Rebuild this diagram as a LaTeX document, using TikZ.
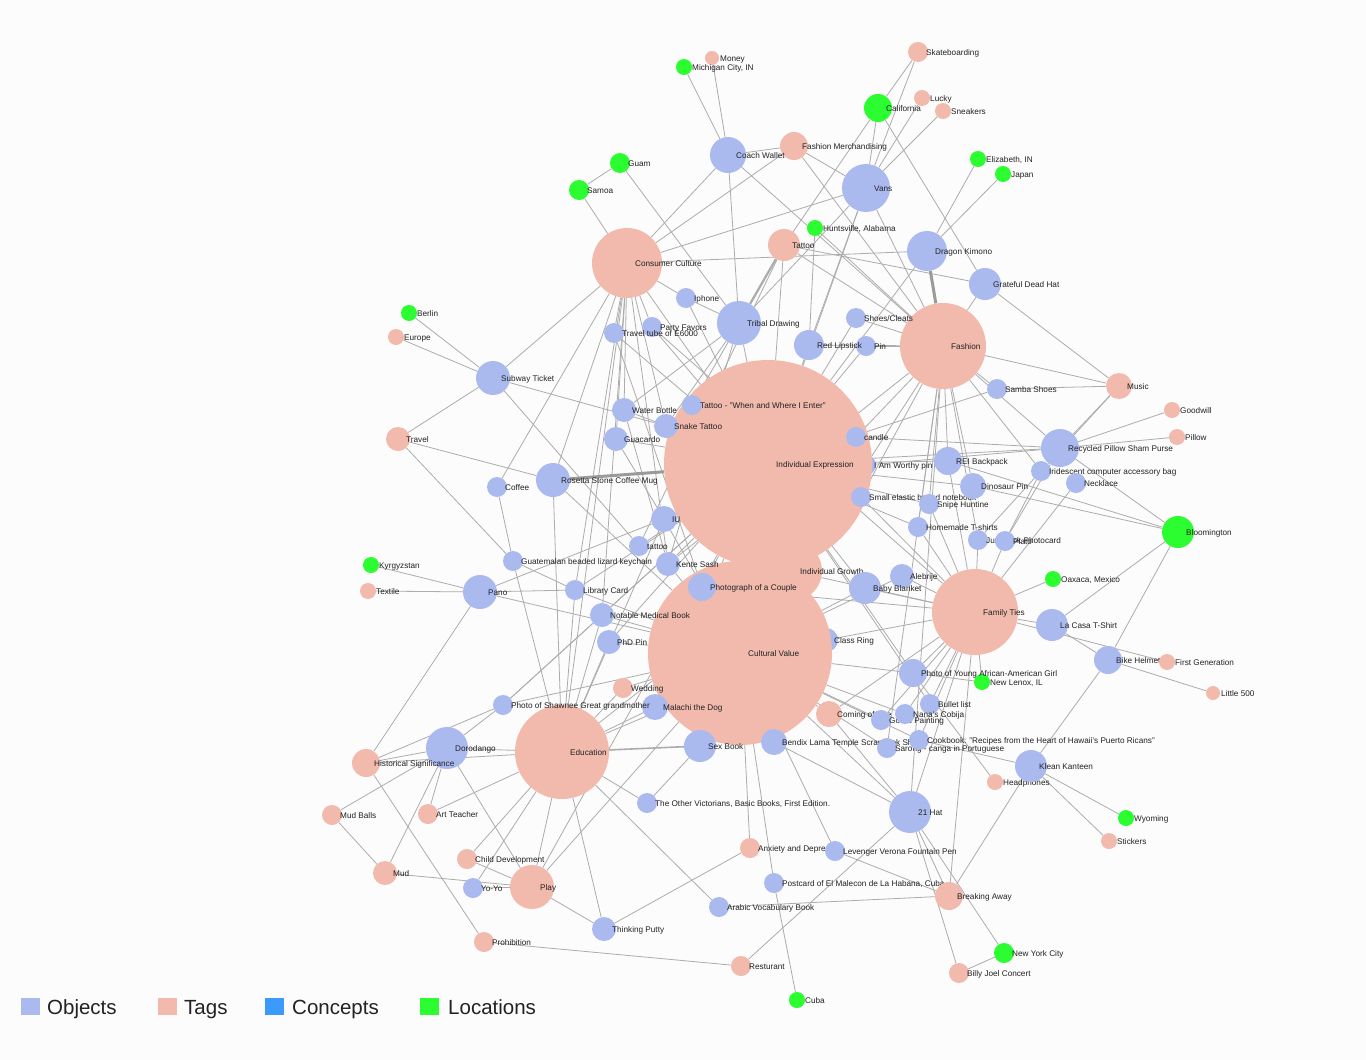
\documentclass[tikz,border=0pt]{standalone}
\usepackage{fontspec}
\setmainfont{Liberation Sans}
\definecolor{objc}{HTML}{ABBAEE}
\definecolor{tagc}{HTML}{F1BAAD}
\definecolor{conc}{HTML}{3C9AFC}
\definecolor{locc}{HTML}{2BFD30}
\definecolor{edgec}{HTML}{ACACAC}
\definecolor{thickc}{HTML}{9A9A9A}
\definecolor{bgc}{HTML}{FCFCFC}
\definecolor{txtc}{HTML}{222222}
\pgfdeclarelayer{bglayer}
\pgfdeclarelayer{edgelayer}
\pgfsetlayers{bglayer,edgelayer,main}
\newcommand\gn[6]{%
  \node[#2,minimum size=#5*2pt] (#1) at (#3,#4) {};
  \node[lbl] (#1-t) at (#3+8,#4+3) {#6};}
\begin{document}
\begin{tikzpicture}[x=1pt,y=-1pt,
  obj/.style={circle,fill=objc,draw=none,inner sep=0pt},
  tag/.style={circle,fill=tagc,draw=none,inner sep=0pt},
  loc/.style={circle,fill=locc,draw=none,inner sep=0pt},
  lbl/.style={anchor=base west,inner sep=0pt,text=txtc,font=\fontsize{8.2}{9.8}\selectfont},
  edge/.style={draw=edgec,line width=0.8pt},
  thickedge/.style={draw=thickc,line width=3pt},
  legsq/.style={rectangle,draw=none,inner sep=0pt,minimum width=19pt,minimum height=17pt},
  legtx/.style={anchor=base west,inner sep=0pt,text=txtc,font=\fontsize{20.5}{24}\selectfont}]
\useasboundingbox (0,0) rectangle (1366,1060);
\begin{pgfonlayer}{bglayer}
\fill[bgc] (0,0) rectangle (1366,1060);
\end{pgfonlayer}
% nodes hidden behind the big ones
\gn{worthy}{obj}{866}{465}{10}{I Am Worthy pin}
\gn{classring}{obj}{826}{640}{12}{Class Ring}
\gn{growth}{tag}{792}{571}{30}{Individual Growth}
% big tags
\gn{ie}{tag}{768}{464}{104}{Individual Expression}
\gn{cv}{tag}{740}{653}{92}{Cultural Value}
\gn{family}{tag}{975}{612}{43}{Family Ties}
\gn{fashion}{tag}{943}{346}{43}{Fashion}
\gn{edu}{tag}{562}{752}{47}{Education}
\gn{cc}{tag}{627}{263}{35}{Consumer Culture}
% top
\gn{money}{tag}{712}{58}{7}{Money}
\gn{mich}{loc}{684}{67}{8}{Michigan City, IN}
\gn{skate}{tag}{918}{52}{10}{Skateboarding}
\gn{lucky}{tag}{922}{98}{8}{Lucky}
\gn{calif}{loc}{878}{108}{14}{California}
\gn{sneak}{tag}{943}{111}{8}{Sneakers}
\gn{guam}{loc}{620}{163}{10}{Guam}
\gn{samoa}{loc}{579}{190}{10}{Samoa}
\gn{fmerch}{tag}{794}{146}{14}{Fashion Merchandising}
\gn{coach}{obj}{728}{155}{18}{Coach Wallet}
\gn{eliz}{loc}{978}{159}{8}{Elizabeth, IN}
\gn{japan}{loc}{1003}{174}{8}{Japan}
\gn{vans}{obj}{866}{188}{24}{Vans}
\gn{hunts}{loc}{815}{228}{8}{Huntsville, Alabama}
\gn{tattooT}{tag}{784}{245}{16}{Tattoo}
\gn{dragon}{obj}{927}{251}{20}{Dragon Kimono}
\gn{gdh}{obj}{985}{284}{16}{Grateful Dead Hat}
\gn{iphone}{obj}{686}{298}{10}{Iphone}
\gn{tribal}{obj}{739}{323}{22}{Tribal Drawing}
\gn{party}{obj}{652}{327}{10}{Party Favors}
\gn{tube}{obj}{614}{333}{10}{Travel tube of E6000}
\gn{berlin}{loc}{409}{313}{8}{Berlin}
\gn{europe}{tag}{396}{337}{8}{Europe}
\gn{shoes}{obj}{856}{318}{10}{Shoes/Cleats}
\gn{pin}{obj}{866}{346}{10}{Pin}
\gn{lipstick}{obj}{809}{345}{15}{Red Lipstick}
\gn{subway}{obj}{493}{378}{17}{Subway Ticket}
\gn{music}{tag}{1119}{386}{13}{Music}
\gn{samba}{obj}{997}{389}{10}{Samba Shoes}
\gn{water}{obj}{624}{410}{12}{Water Bottle}
\gn{wwie}{obj}{692}{405}{10}{Tattoo - "When and Where I Enter"}
\gn{goodwill}{tag}{1172}{410}{8}{Goodwill}
\gn{snake}{obj}{666}{426}{12}{Snake Tattoo}
\gn{travel}{tag}{398}{439}{12}{Travel}
\gn{guac}{obj}{616}{439}{12}{Guacardo}
\gn{pillow}{tag}{1177}{437}{8}{Pillow}
\gn{candle}{obj}{856}{437}{10}{candle}
\gn{purse}{obj}{1060}{448}{19}{Recycled Pillow Sham Purse}
\gn{rei}{obj}{948}{461}{14}{REI Backpack}
\gn{irid}{obj}{1041}{471}{10}{Iridescent computer accessory bag}
\gn{coffee}{obj}{497}{487}{10}{Coffee}
\gn{rosetta}{obj}{553}{480}{17}{Rosetta Stone Coffee Mug}
\gn{necklace}{obj}{1076}{483}{10}{Necklace}
\gn{notebook}{obj}{861}{497}{10}{Small elastic bound notebook}
\gn{dino}{obj}{973}{486}{13}{Dinosaur Pin}
\gn{snipe}{obj}{929}{504}{10}{Snipe Huntine}
\gn{iu}{obj}{664}{519}{13}{IU}
\gn{homemade}{obj}{918}{527}{10}{Homemade T-shirts}
\gn{bloom}{loc}{1178}{532}{16}{Bloomington}
\gn{tattoo2}{obj}{639}{546}{10}{tattoo}
\gn{jung}{obj}{978}{540}{10}{Jungkook Photocard}
\gn{plato}{obj}{1005}{541}{10}{Plato}
\gn{guate}{obj}{513}{561}{10}{Guatemalan beaded lizard keychain}
\gn{kente}{obj}{668}{564}{12}{Kente Sash}
\gn{kyrg}{loc}{371}{565}{8}{Kyrgyzstan}
\gn{couple}{obj}{702}{587}{14}{Photograph of a Couple}
\gn{oaxaca}{loc}{1053}{579}{8}{Oaxaca, Mexico}
\gn{alebrije}{obj}{902}{576}{12}{Alebrije}
\gn{blanket}{obj}{865}{588}{16}{Baby Blanket}
\gn{pano}{obj}{480}{592}{17}{Pano}
\gn{textile}{tag}{368}{591}{8}{Textile}
\gn{library}{obj}{575}{590}{10}{Library Card}
\gn{medical}{obj}{602}{615}{12}{Notable Medical Book}
\gn{lacasa}{obj}{1052}{625}{16}{La Casa T-Shirt}
\gn{phd}{obj}{609}{642}{12}{PhD Pin}
\gn{helmet}{obj}{1108}{660}{14}{Bike Helmet}
\gn{firstgen}{tag}{1167}{662}{8}{First Generation}
\gn{lenox}{loc}{982}{682}{8}{New Lenox, IL}
\gn{girl}{obj}{913}{673}{14}{Photo of Young African-American Girl}
\gn{wedding}{tag}{623}{688}{10}{Wedding}
\gn{little}{tag}{1213}{693}{7}{Little 500}
\gn{malachi}{obj}{655}{707}{13}{Malachi the Dog}
\gn{shawnee}{obj}{503}{705}{10}{Photo of Shawnee Great grandmother}
\gn{bullet}{obj}{930}{704}{10}{Bullet list}
\gn{coming}{tag}{829}{714}{13}{Coming of Age}
\gn{bendix}{obj}{774}{742}{13}{Bendix Lama Temple Scrapbook Sheet}
\gn{gourd}{obj}{881}{720}{10}{Gourd Painting}
\gn{nana}{obj}{905}{714}{10}{Nana's Cobija}
\gn{sarong}{obj}{887}{748}{10}{Sarong - canga in Portuguese}
\gn{cookbook}{obj}{919}{740}{10}{Cookbook: "Recipes from the Heart of Hawaii's Puerto Ricans"}
\gn{sexbook}{obj}{700}{746}{16}{Sex Book}
\gn{doro}{obj}{447}{748}{21}{Dorodango}
\gn{hist}{tag}{366}{763}{14}{Historical Significance}
\gn{headph}{tag}{995}{782}{8}{Headphones}
\gn{klean}{obj}{1031}{766}{16}{Klean Kanteen}
\gn{victorians}{obj}{647}{803}{10}{The Other Victorians, Basic Books, First Edition.}
\gn{mudballs}{tag}{332}{815}{10}{Mud Balls}
\gn{artteach}{tag}{428}{814}{10}{Art Teacher}
\gn{hat21}{obj}{910}{812}{21}{21 Hat}
\gn{wyoming}{loc}{1126}{818}{8}{Wyoming}
\gn{stickers}{tag}{1109}{841}{8}{Stickers}
\gn{anxiety}{tag}{750}{848}{10}{Anxiety and Depression}
\gn{levenger}{obj}{835}{851}{10}{Levenger Verona Fountain Pen}
\gn{childdev}{tag}{467}{859}{10}{Child Development}
\gn{mud}{tag}{385}{873}{12}{Mud}
\gn{yoyo}{obj}{473}{888}{10}{Yo-Yo}
\gn{play}{tag}{532}{887}{22}{Play}
\gn{postcard}{obj}{774}{883}{10}{Postcard of El Malecon de La Habana, Cuba}
\gn{breaking}{tag}{949}{896}{14}{Breaking Away}
\gn{arabic}{obj}{719}{907}{10}{Arabic Vocabulary Book}
\gn{putty}{obj}{604}{929}{12}{Thinking Putty}
\gn{prohib}{tag}{484}{942}{10}{Prohibition}
\gn{nyc}{loc}{1004}{953}{10}{New York City}
\gn{rest}{tag}{741}{966}{10}{Resturant}
\gn{billy}{tag}{959}{973}{10}{Billy Joel Concert}
\gn{cuba}{loc}{797}{1000}{8}{Cuba}
% edges
\begin{pgfonlayer}{edgelayer}
\foreach \a/\b in {mich/coach, money/coach, guam/samoa, samoa/cc, guam/tribal,
  coach/cc, coach/fmerch, coach/tribal, coach/fashion,
  fmerch/cc, fmerch/vans, fmerch/fashion,
  calif/vans, skate/calif, skate/vans, sneak/vans, lucky/vans, calif/tattooT, calif/gdh,
  eliz/dragon, japan/dragon, hunts/lipstick, hunts/fashion,
  tattooT/gdh, tattooT/fashion, tattooT/ie,
  vans/lipstick, vans/ie, vans/fashion, vans/cc, vans/tribal,
  dragon/ie, dragon/cc, gdh/fashion, gdh/music,
  cc/iphone, cc/ie, cc/tube, cc/party, cc/water, cc/guac, cc/rosetta, cc/coffee, cc/subway,
  cc/edu, cc/library, cc/medical, cc/snake, cc/kente,
  iphone/ie, iphone/tribal, tribal/ie, tribal/water, tribal/snake, tribal/kente,
  party/ie, party/family, tube/ie, tube/couple,
  berlin/subway, europe/subway, travel/subway, subway/snake, subway/tattoo2,
  travel/rosetta, travel/guate, coffee/guate, rosetta/edu, rosetta/cv,
  water/ie, water/kente, guac/iu, guac/ie, snake/ie, wwie/ie, wwie/tattooT,
  shoes/fashion, shoes/ie, lipstick/ie, lipstick/fashion, pin/fashion, pin/ie,
  music/samba, music/purse, music/irid, music/fashion,
  goodwill/purse, pillow/purse, purse/ie, purse/fashion, purse/bloom,
  samba/fashion, samba/ie, candle/ie, candle/purse, candle/fashion,
  worthy/ie, worthy/purse, worthy/fashion,
  rei/fashion, rei/ie, rei/family, rei/bloom,
  irid/fashion, irid/jung, irid/plato, necklace/family,
  dino/fashion, dino/ie, dino/bloom,
  notebook/ie, notebook/family, notebook/fashion,
  snipe/fashion, snipe/ie, snipe/family,
  homemade/fashion, homemade/family, homemade/ie,
  jung/fashion, jung/family, plato/purse, plato/family,
  iu/ie, iu/edu, iu/cv, iu/pano, tattoo2/ie, tattoo2/tattooT,
  kente/ie, kente/cv, kente/fashion, guate/library, guate/edu,
  kyrg/pano, textile/pano, pano/library, pano/cv, pano/hist,
  library/edu, library/ie, library/cv, medical/edu, medical/ie, medical/cv,
  phd/edu, phd/ie, phd/cv, couple/family, couple/cv, couple/ie,
  alebrije/family, alebrije/cv, blanket/family, blanket/cv, blanket/ie,
  oaxaca/family, lacasa/family, lacasa/bloom, lacasa/helmet, family/firstgen,
  helmet/little, helmet/bloom, helmet/klean,
  classring/cv, classring/family, classring/edu,
  girl/family, girl/cv, girl/ie, lenox/girl, lenox/family,
  wedding/edu, wedding/cv,
  shawnee/hist, shawnee/doro, shawnee/cv, shawnee/medical, shawnee/ie,
  malachi/edu, malachi/cv, malachi/ie,
  bullet/family, bullet/ie, coming/cv, coming/hat21, coming/family,
  nana/family, nana/cv, gourd/family, gourd/cv,
  bendix/cv, bendix/ie, bendix/hat21,
  cookbook/cv, cookbook/family, cookbook/klean, sarong/fashion, sarong/cv,
  sexbook/cv, sexbook/victorians,
  doro/edu, doro/hist, doro/artteach, doro/mud, doro/play, mudballs/doro,
  hist/edu, hist/prohib, mudballs/mud, artteach/edu,
  childdev/edu, childdev/play, mud/play, yoyo/play, yoyo/edu,
  play/edu, play/putty, play/ie, play/cv, putty/edu, putty/anxiety, victorians/edu,
  anxiety/cv, levenger/cv, levenger/breaking, postcard/cv, postcard/cuba,
  arabic/breaking, arabic/edu,
  hat21/breaking, hat21/family, hat21/fashion, hat21/billy, hat21/nyc, hat21/rest, hat21/cv,
  breaking/klean, breaking/family, billy/nyc,
  klean/wyoming, klean/stickers, headph/girl, prohib/rest, growth/family, growth/edu}
  \draw[edge] (\a) -- (\b);
\draw[thickedge] (rosetta) -- (ie);
\draw[thickedge] (dragon) -- (fashion);
\draw[edge,line width=2.2pt] (tattooT) -- (tribal);
\draw[edge,line width=1.6pt] (sexbook) -- (edu);
\end{pgfonlayer}
% legend
\node[legsq,fill=objc] (lg1) at (30.5,1006.5) {};
\node[legtx] (lg1t) at (47,1014.5) {Objects};
\node[legsq,fill=tagc] (lg2) at (167.5,1006.5) {};
\node[legtx] (lg2t) at (184,1014.5) {Tags};
\node[legsq,fill=conc] (lg3) at (274.5,1006.5) {};
\node[legtx] (lg3t) at (292,1014.5) {Concepts};
\node[legsq,fill=locc] (lg4) at (429.5,1006.5) {};
\node[legtx] (lg4t) at (448,1014.5) {Locations};
\end{tikzpicture}
\end{document}
